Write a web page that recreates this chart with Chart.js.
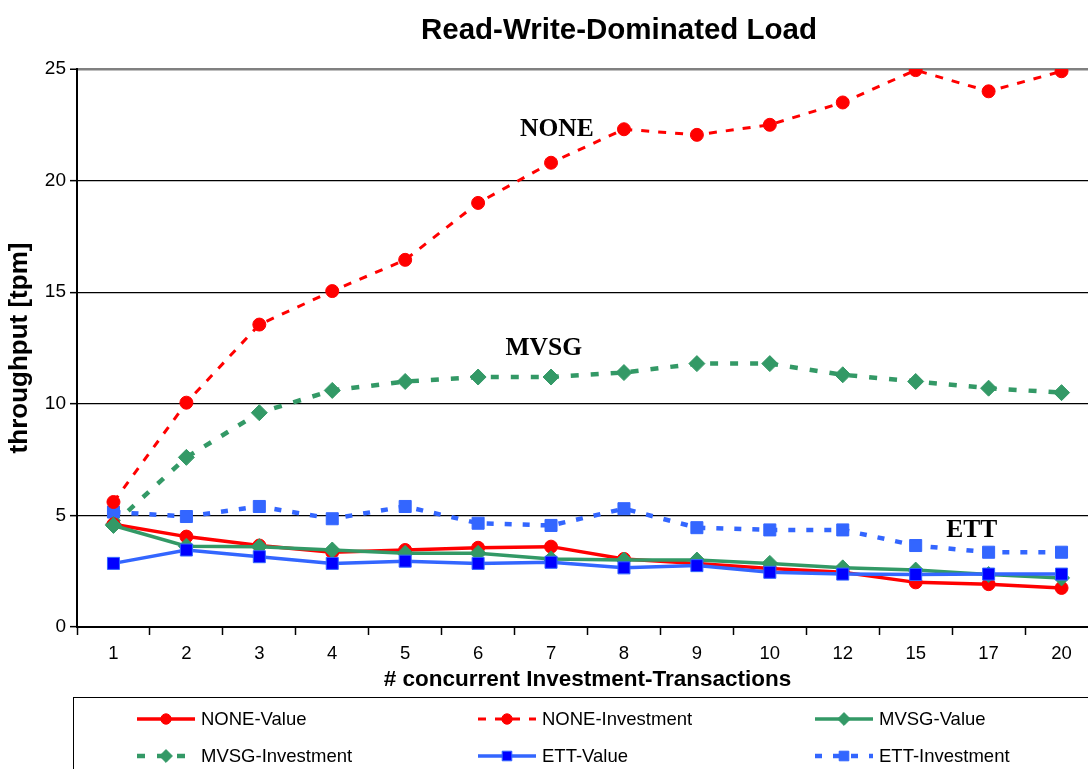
<!DOCTYPE html>
<html>
<head>
<meta charset="utf-8">
<script src="https://cdn.jsdelivr.net/npm/chart.js@4/dist/chart.umd.min.js"></script>
<style>
  html, body { margin: 0; padding: 0; background: #fff; overflow: hidden; }
  #wrap { position: absolute; left: 0; top: 0; width: 1120px; height: 769px; }
</style>
</head>
<body>
<div id="wrap"><canvas id="chart" width="1120" height="769"></canvas></div>
<script>
// values
const categories = ['1', '2', '3', '4', '5', '6', '7', '8', '9', '10', '12', '15', '17', '20'];
const noneValue      = [4.6, 4.05, 3.65, 3.35, 3.45, 3.55, 3.6, 3.05, 2.85, 2.62, 2.45, 2.0, 1.92, 1.75];
const noneInvestment = [5.6, 10.05, 13.55, 15.05, 16.45, 19.0, 20.8, 22.3, 22.05, 22.5, 23.5, 24.95, 24.0, 24.9];
const mvsgValue      = [4.55, 3.62, 3.6, 3.45, 3.3, 3.3, 3.05, 3.0, 3.0, 2.85, 2.65, 2.55, 2.35, 2.2];
const mvsgInvestment = [4.6, 7.6, 9.6, 10.6, 11.0, 11.2, 11.2, 11.4, 11.8, 11.8, 11.3, 11.0, 10.7, 10.5];
const ettValue       = [2.85, 3.45, 3.15, 2.85, 2.95, 2.85, 2.9, 2.65, 2.75, 2.45, 2.37, 2.35, 2.37, 2.37];
const ettInvestment  = [5.15, 4.95, 5.4, 4.85, 5.4, 4.65, 4.55, 5.3, 4.45, 4.35, 4.35, 3.65, 3.35, 3.35];
const yTicks = [0, 5, 10, 15, 20, 25];

// in-plot labels: text, category position, y value
const notes = [
  { text: 'NONE', x: 6.08, y: 22.3 },
  { text: 'MVSG', x: 5.9, y: 12.5 },
  { text: 'ETT', x: 11.77, y: 4.35 }
];

const RED = '#FF0000', GREEN = '#339966', BLUE = '#3366FF', DKBLUE = '#0000FF';
const SANS = '"Liberation Sans", Arial, sans-serif';

function series(label, data, color, opts) {
  return Object.assign({
    label: label,
    data: data,
    borderColor: color,
    backgroundColor: color,
    pointBackgroundColor: color,
    pointBorderColor: color,
    borderWidth: 3.5,
    pointBorderWidth: 1,
    tension: 0,
    fill: false
  }, opts);
}

const datasets = [
  series('NONE-Value', noneValue, RED, { pointStyle: 'circle', pointRadius: 6.5, order: 3 }),
  series('NONE-Investment', noneInvestment, RED, { pointStyle: 'circle', pointRadius: 6.5, borderDash: [8, 9], borderWidth: 3, order: 4 }),
  series('MVSG-Value', mvsgValue, GREEN, { pointStyle: 'rectRot', pointRadius: 8, order: 2 }),
  series('MVSG-Investment', mvsgInvestment, GREEN, { pointStyle: 'rectRot', pointRadius: 8, borderDash: [8, 12], borderWidth: 4.5, order: 5 }),
  series('ETT-Value', ettValue, BLUE, { pointStyle: 'rect', pointRadius: 8.5, pointBackgroundColor: DKBLUE, pointBorderColor: BLUE, order: 1 }),
  series('ETT-Investment', ettInvestment, BLUE, { pointStyle: 'rect', pointRadius: 8.5, borderDash: [7, 11], borderWidth: 4.5, order: 6 })
];

// title on top
const titlePlugin = {
  id: 'topTitle',
  afterDraw(chart) {
    const ctx = chart.ctx;
    ctx.save();
    ctx.fillStyle = '#000';
    ctx.font = 'bold 29.5px ' + SANS;
    ctx.textAlign = 'center';
    ctx.textBaseline = 'middle';
    ctx.fillText('Read-Write-Dominated Load', 619, 31);
    ctx.restore();
  }
};

// NONE / MVSG / ETT labels inside the plot
const notesPlugin = {
  id: 'notes',
  afterDatasetsDraw(chart) {
    const ctx = chart.ctx;
    const xs = chart.scales.x, ys = chart.scales.y;
    ctx.save();
    ctx.fillStyle = '#000';
    ctx.font = 'bold 25.5px "Liberation Serif", "Times New Roman", serif';
    ctx.textAlign = 'center';
    ctx.textBaseline = 'middle';
    notes.forEach(n => ctx.fillText(n.text, xs.getPixelForValue(n.x), ys.getPixelForValue(n.y)));
    ctx.restore();
  }
};

// boxed legend below the x axis, 3 columns x 2 rows
const legendPlugin = {
  id: 'boxLegend',
  afterDraw(chart) {
    const ctx = chart.ctx;
    const colX = [137, 478, 815];
    const rowY = [719, 756];
    const sampleLen = 58;
    ctx.save();
    ctx.strokeStyle = '#000';
    ctx.lineWidth = 1;
    ctx.strokeRect(73.5, 697.5, 1200, 120);
    chart.data.datasets.forEach((ds, i) => {
      const x0 = colX[i % 3], y = rowY[Math.floor(i / 3)];
      ctx.save();
      ctx.strokeStyle = ds.borderColor;
      ctx.lineWidth = ds.borderWidth;
      ctx.setLineDash(ds.borderDash || []);
      ctx.beginPath();
      ctx.moveTo(x0, y);
      ctx.lineTo(x0 + sampleLen, y);
      ctx.stroke();
      ctx.setLineDash([]);
      ctx.fillStyle = ds.pointBackgroundColor;
      ctx.strokeStyle = ds.pointBorderColor;
      ctx.lineWidth = 1;
      Chart.helpers.drawPoint(ctx, { pointStyle: ds.pointStyle, radius: ds.pointRadius * 0.8, rotation: 0, borderWidth: 1 }, x0 + sampleLen / 2, y);
      ctx.restore();
      ctx.fillStyle = '#000';
      ctx.font = '18.5px ' + SANS;
      ctx.textAlign = 'left';
      ctx.textBaseline = 'middle';
      ctx.fillText(ds.label, x0 + 64, y + 1);
    });
    ctx.restore();
  }
};

new Chart(document.getElementById('chart'), {
  type: 'line',
  data: { labels: categories, datasets: datasets },
  options: {
    responsive: false,
    animation: false,
    layout: { padding: { top: 69, right: 22, bottom: 74, left: 0 } },
    plugins: {
      legend: { display: false },
      title: { display: false },
      tooltip: { enabled: false }
    },
    scales: {
      x: {
        type: 'category',
        offset: true,
        grid: {
          offset: true,
          drawOnChartArea: false,
          drawTicks: true,
          tickLength: 8,
          tickColor: '#000',
          tickWidth: 1.5
        },
        border: { display: true, color: '#000', width: 2 },
        ticks: {
          color: '#000',
          font: { family: SANS, size: 18.5 },
          padding: 8,
          maxRotation: 0,
          autoSkip: false
        },
        title: {
          display: true,
          text: '# concurrent Investment-Transactions',
          color: '#000',
          font: { family: SANS, size: 22.5, weight: 'bold' },
          padding: { top: 0, bottom: 1.5 }
        },
        afterFit(scale) { scale.height = 68; }
      },
      y: {
        min: 0,
        max: 25,
        afterBuildTicks(scale) { scale.ticks = yTicks.map(v => ({ value: v })); },
        grid: {
          color: c => c.tick && c.tick.value === 25 ? '#808080' : (c.tick && c.tick.value === 0 ? 'rgba(0,0,0,0)' : '#000'),
          lineWidth: c => c.tick && c.tick.value === 25 ? 2.5 : 1.3,
          drawTicks: true,
          tickLength: 7,
          tickColor: '#000',
          tickWidth: 1.5
        },
        border: { display: true, color: '#000', width: 2 },
        ticks: {
          color: '#000',
          font: { family: SANS, size: 19 },
          padding: 4
        },
        title: {
          display: true,
          text: 'throughput [tpm]',
          color: '#000',
          font: { family: SANS, size: 26, weight: 'bold' },
          padding: { top: 4, bottom: 0 }
        },
        afterFit(scale) { scale.width = 77; }
      }
    }
  },
  plugins: [titlePlugin, notesPlugin, legendPlugin]
});
</script>
</body>
</html>
